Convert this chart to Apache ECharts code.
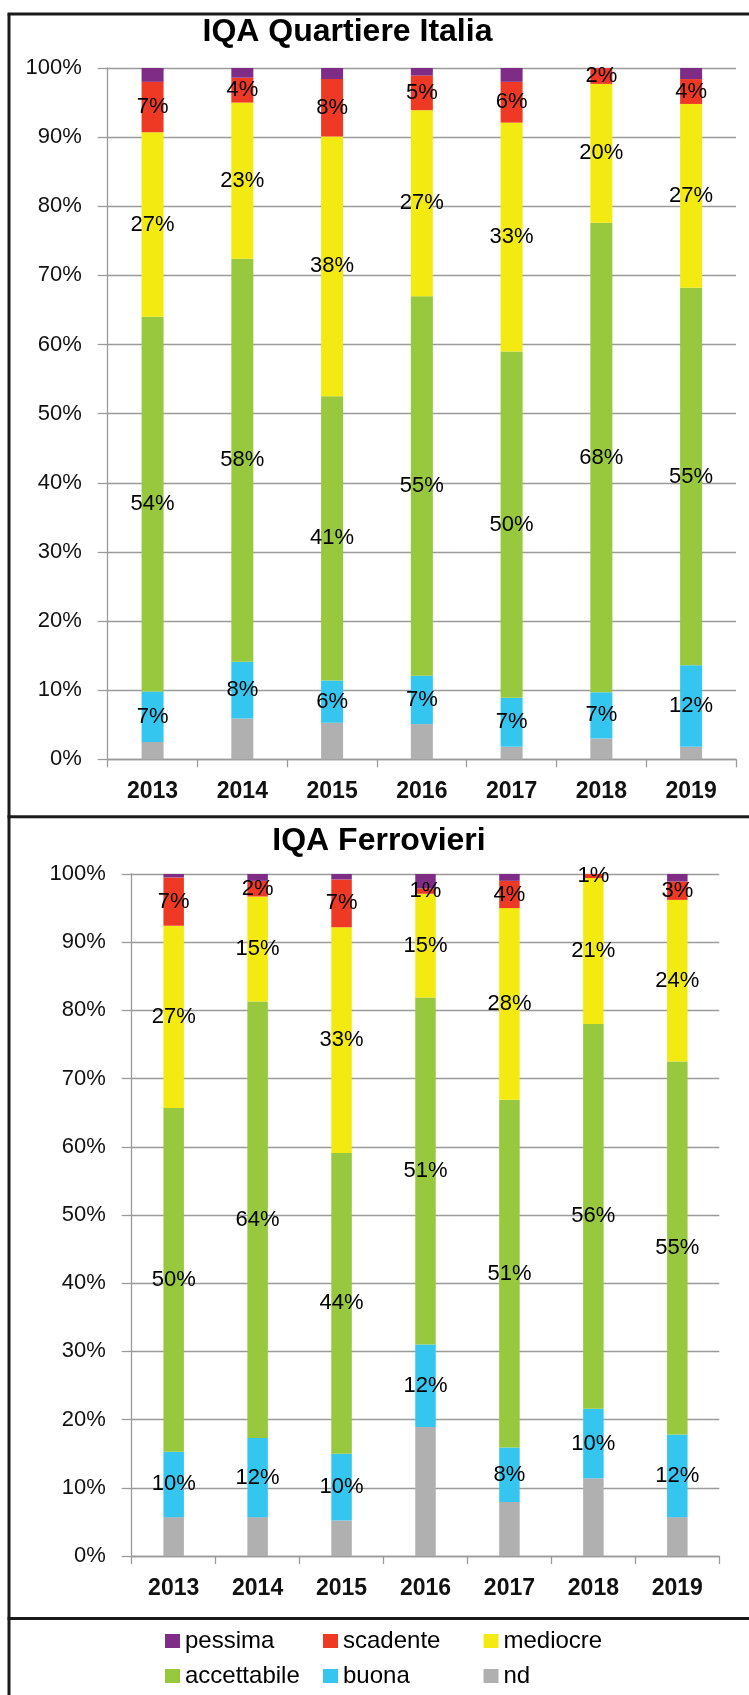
<!DOCTYPE html>
<html>
<head>
<meta charset="utf-8">
<title>IQA</title>
<script src="https://cdn.jsdelivr.net/npm/echarts@6/dist/echarts.min.js"></script>
<style>
  html, body { margin: 0; padding: 0; background: #fff; }
  #chart { width: 749px; height: 1695px; }
</style>
</head>
<body>
<div id="chart"></div>
<script>
  // anni
  const years = ['2013', '2014', '2015', '2016', '2017', '2018', '2019'];
  const yTicks = [0, 10, 20, 30, 40, 50, 60, 70, 80, 90, 100];

  // IQA Quartiere Italia (%)
  const italiaNd = [2.5, 5.9, 5.3, 5.1, 1.8, 3.0, 1.8];
  const italiaBuona = [7.3, 8.2, 6.1, 7.0, 7.1, 6.7, 11.8];
  const italiaAccettabile = [54.2, 58.3, 41.1, 54.9, 50.1, 67.9, 54.6];
  const italiaMediocre = [26.7, 22.6, 37.6, 26.9, 33.1, 20.1, 26.6];
  const italiaScadente = [7.3, 3.6, 8.3, 5.0, 5.9, 2.3, 3.6];
  const italiaPessima = [2.0, 1.4, 1.6, 1.1, 2.0, 0, 1.6];

  // IQA Ferrovieri (%)
  const ferrNd = [5.7, 5.7, 5.2, 18.9, 7.9, 11.4, 5.7];
  const ferrBuona = [9.6, 11.6, 9.8, 12.1, 8.0, 10.2, 12.1];
  const ferrAccettabile = [50.4, 64.0, 44.1, 50.9, 51.0, 56.4, 54.7];
  const ferrMediocre = [26.7, 15.4, 33.1, 15.2, 28.1, 21.4, 23.7];
  const ferrScadente = [7.1, 2.3, 7.0, 0.8, 4.0, 0.6, 2.7];
  const ferrPessima = [0.5, 1.0, 0.8, 2.1, 1.0, 0, 1.1];

  const FONT = 'Liberation Sans';

  // dal basso verso l'alto
  const levels = [
    { name: 'nd', color: '#b0b0b0', label: false },
    { name: 'buona', color: '#35c6f0', label: true },
    { name: 'accettabile', color: '#97c83d', label: true },
    { name: 'mediocre', color: '#f2ea10', label: true },
    { name: 'scadente', color: '#ee3a24', label: true },
    { name: 'pessima', color: '#7e2c85', label: false },
  ];

  const buildSeries = (idx, values, barWidth) =>
    levels.map((lv, i) => ({
      name: lv.name,
      type: 'bar',
      stack: 'iqa' + idx,
      xAxisIndex: idx,
      yAxisIndex: idx,
      barWidth: barWidth,
      itemStyle: { color: lv.color },
      label: {
        show: lv.label,
        position: 'inside',
        formatter: (p) => Math.round(p.value) + '%',
        color: '#000',
        fontSize: 22,
        fontFamily: FONT,
        textBorderWidth: 0,
      },
      data: values[i],
    }));

  const xAxisCommon = {
    type: 'category',
    data: years,
    axisLine: { lineStyle: { color: '#9a9a9a', width: 1.3 } },
    axisTick: { show: true, length: 8, lineStyle: { color: '#9a9a9a', width: 1.3 } },
    axisLabel: { color: '#111', fontSize: 23, fontWeight: 'bold', fontFamily: FONT, margin: 21 },
  };

  const yAxisCommon = {
    type: 'value',
    min: yTicks[0],
    max: yTicks[yTicks.length - 1],
    interval: 10,
    axisLine: { show: true, lineStyle: { color: '#9a9a9a', width: 1.3 } },
    axisTick: { show: true, length: 10, lineStyle: { color: '#9a9a9a', width: 1.3 } },
    axisLabel: { color: '#111', fontSize: 22, fontFamily: FONT, margin: 26, formatter: '{value}%' },
    splitLine: { lineStyle: { color: '#9a9a9a', width: 1.3 } },
  };

  const legendCommon = {
    orient: 'vertical',
    icon: 'rect',
    itemWidth: 15,
    itemHeight: 14,
    itemGap: 11,
    padding: 0,
    top: 1629,
    selectedMode: false,
    textStyle: { color: '#000', fontSize: 24, lineHeight: 24, fontFamily: FONT },
  };

  const chart = echarts.init(document.getElementById('chart'));
  const option = {
    animation: false,
    backgroundColor: '#fff',
    title: [
      {
        text: 'IQA Quartiere Italia',
        left: 347.5,
        top: 16,
        padding: 0,
        textAlign: 'center',
        textStyle: { fontSize: 32, fontWeight: 'bold', color: '#000', fontFamily: FONT },
      },
      {
        text: 'IQA Ferrovieri',
        left: 379,
        top: 825,
        padding: 0,
        textAlign: 'center',
        textStyle: { fontSize: 32, fontWeight: 'bold', color: '#000', fontFamily: FONT },
      },
    ],
    legend: [
      { ...legendCommon, left: 165, data: ['pessima', 'accettabile'] },
      { ...legendCommon, left: 323, data: ['scadente', 'buona'] },
      { ...legendCommon, left: 483.5, data: ['mediocre', 'nd'] },
    ],
    grid: [
      { left: 107.7, top: 68, width: 628.3, height: 691.3 },
      { left: 131.7, top: 874, width: 587.6, height: 682 },
    ],
    xAxis: [
      { ...xAxisCommon, gridIndex: 0 },
      { ...xAxisCommon, gridIndex: 1 },
    ],
    yAxis: [
      { ...yAxisCommon, gridIndex: 0 },
      { ...yAxisCommon, gridIndex: 1 },
    ],
    // cornice della figura
    graphic: [
      { type: 'line', shape: { x1: 9, y1: 14, x2: 9, y2: 1695 }, style: { stroke: '#1a1a1a', lineWidth: 3 } },
      { type: 'line', shape: { x1: 7.5, y1: 14, x2: 749, y2: 14 }, style: { stroke: '#1a1a1a', lineWidth: 3 } },
      { type: 'line', shape: { x1: 7.5, y1: 816.7, x2: 749, y2: 816.7 }, style: { stroke: '#1a1a1a', lineWidth: 3 } },
      { type: 'line', shape: { x1: 7.5, y1: 1618.5, x2: 749, y2: 1618.5 }, style: { stroke: '#1a1a1a', lineWidth: 3 } },
    ],
    series: [
      ...buildSeries(0, [italiaNd, italiaBuona, italiaAccettabile, italiaMediocre, italiaScadente, italiaPessima], 22),
      ...buildSeries(1, [ferrNd, ferrBuona, ferrAccettabile, ferrMediocre, ferrScadente, ferrPessima], 20.5),
    ],
  };
  chart.setOption(option);

  window.addEventListener('resize', () => chart.resize());
</script>
</body>
</html>
